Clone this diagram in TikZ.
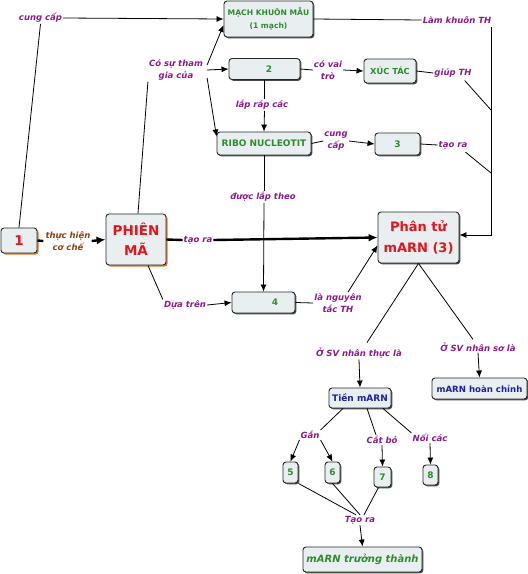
\documentclass[tikz,border=0pt]{standalone}
\usepackage{fontspec}
\setmainfont{DejaVu Sans}
\usetikzlibrary{arrows.meta,shadows,calc}
\definecolor{boxfill}{HTML}{E9EFF1}
\definecolor{lblpurple}{HTML}{8B1A8B}
\definecolor{lblbrown}{HTML}{8B4513}
\definecolor{txtgreen}{HTML}{2E8B2E}
\definecolor{txtred}{HTML}{E3141C}
\definecolor{txtblue}{HTML}{1F1F9F}
\definecolor{shadowgray}{HTML}{4A4A4A}
\definecolor{shadoworange}{HTML}{E8762A}
\begin{document}
\begin{tikzpicture}[x=1pt,y=-1pt,
  basebox/.style={draw=black!85, line width=0.9pt, rounded corners=3pt, fill=boxfill,
    inner sep=0pt, align=center, font=\bfseries\fontsize{9}{10.5}\selectfont},
  gbox/.style={basebox, drop shadow={shadow xshift=1.3pt, shadow yshift=-1.3pt, fill=shadowgray, opacity=1}},
  obox/.style={basebox, drop shadow={shadow xshift=1.6pt, shadow yshift=-1.6pt, fill=shadoworange, opacity=1}},
  lbl/.style={font=\bfseries\itshape\fontsize{8.5}{12.5}\selectfont, text=lblpurple, align=center, inner sep=1pt},
  conn/.style={line width=0.8pt, draw=black},
  arr/.style={conn, -{Latex[length=7pt,width=6pt]}},
  tk/.style={line width=2.4pt, draw=black},
  tkarr/.style={tk, -{Latex[length=9pt,width=8pt]}}]
\useasboundingbox (0,0) rectangle (528,574);
\fill[white] (0,0) rectangle (528,574);
% boxes
\node[gbox, minimum width=89, minimum height=36, text=txtgreen, font=\bfseries\fontsize{7.6}{13}\selectfont] (mk) at (268.5,19) {MẠCH KHUÔN MẪU\\(1 mạch)};
\node[gbox, minimum width=71, minimum height=21, text=txtgreen] (n2) at (264.5,69) {\hspace*{9pt}2};
\node[gbox, minimum width=52, minimum height=24, text=txtgreen, font=\bfseries\fontsize{8.3}{10}\selectfont] (xt) at (390,71) {XÚC TÁC};
\node[gbox, minimum width=94, minimum height=23, text=txtgreen] (ribo) at (264,143.5) {RIBO NUCLEOTIT};
\node[gbox, minimum width=45, minimum height=22, text=txtgreen] (n3) at (397.5,144) {3};
\node[obox, minimum width=36, minimum height=25, text=txtred, font=\bfseries\fontsize{13.5}{15}\selectfont] (n1) at (19,240.5) {1};
\node[obox, minimum width=60, minimum height=51, text=txtred, font=\bfseries\fontsize{13.5}{20}\selectfont] (ph) at (136,239.5) {PHIÊN\\MÃ};
\node[gbox, minimum width=81, minimum height=51, text=txtred, font=\bfseries\fontsize{13}{21}\selectfont] (phan) at (418.5,237.5) {Phân tử\\mARN (3)};
\node[gbox, minimum width=63, minimum height=21, text=txtgreen] (n4) at (263.5,302.5) {\hspace*{23pt}4};
\node[gbox, minimum width=95, minimum height=21, text=txtblue, font=\bfseries\fontsize{8.6}{10}\selectfont] (hc) at (479.5,388.5) {mARN hoàn chỉnh};
\node[gbox, minimum width=62, minimum height=20, text=txtblue] (tien) at (360,398) {Tiền mARN};
\node[gbox, minimum width=15, minimum height=21, text=txtgreen] (n5) at (290.5,472.5) {5};
\node[gbox, minimum width=15, minimum height=21, text=txtgreen] (n6) at (332.5,472.5) {6};
\node[gbox, minimum width=17, minimum height=20, text=txtgreen] (n7) at (382.5,477) {7};
\node[gbox, minimum width=15, minimum height=20, text=txtgreen] (n8) at (430.5,475) {8};
\node[gbox, minimum width=119, minimum height=25, text=txtgreen, font=\bfseries\itshape\fontsize{10}{12}\selectfont] (tt) at (362.5,559.5) {mARN trưởng thành};
% labels
\node[lbl] (cc1) at (40.5,18) {cung cấp};
\node[lbl] (cs) at (176,70) {Có sự tham\\gia của};
\node[lbl] (lk) at (457,20) {Làm khuôn TH};
\node[lbl] (cv) at (328,70) {có vai\\trò};
\node[lbl] (gt) at (453,73) {giúp TH};
\node[lbl] (lr) at (262,105) {lắp ráp các};
\node[lbl] (cc2) at (336,141) {cung\\cấp};
\node[lbl] (tr3) at (453,145) {tạo ra};
\node[lbl] (dl) at (263,197) {được lắp theo};
\node[lbl, text=lblbrown] (th) at (68,241) {thực hiện\\cơ chế};
\node[lbl] (tr) at (198,240) {tạo ra};
\node[lbl] (dt) at (185,305) {Dựa trên};
\node[lbl] (lnt) at (338,303) {là nguyên\\tắc TH};
\node[lbl] (nt) at (359,353) {Ở SV nhân thực là};
\node[lbl] (ns) at (478,347) {Ở SV nhân sơ là};
\node[lbl] (gan) at (310,435) {Gắn};
\node[lbl] (cb) at (382,440) {Cắt bỏ};
\node[lbl] (noi) at (430,438) {Nối các};
\node[lbl] (tao) at (360,520) {Tạo ra};
% helper coordinates on the right trunk
\coordinate (vt) at (491,27);
\coordinate (vb) at (491,235);
\coordinate (j1) at (491,110);
\coordinate (j2) at (491,173);
% connectors
\draw[conn] (n1.north) -- (cc1.south);
\draw[arr] (cc1.east) -- (mk.west);
\draw[tk] (n1.east) -- ([xshift=-1pt]th.west);
\draw[tkarr] (th.east) -- (ph.west);
\draw[conn] ([xshift=2pt]ph.north) -- (cs.south west);
\draw[arr] ([xshift=3pt,yshift=5pt]cs.east) -- ([yshift=-6pt]mk.west);
\draw[arr] ([xshift=3pt]cs.east) -- (n2.west);
\draw[arr] ([xshift=3pt,yshift=-8pt]cs.east) -- ([yshift=-5pt]ribo.north west);
\draw[conn] (mk.east) -- (lk.west);
\draw[arr] (vt) -- (vb) -- (vb -| phan.east);
\draw[conn] (xt.east) -- (gt.west);
\draw[conn] ([xshift=-8pt,yshift=-2pt]gt.south east) -- (j1);
\draw[conn] (n3.east) -- (tr3.west);
\draw[conn] ([xshift=-3pt,yshift=-2pt]tr3.south east) -- (j2);
\draw[conn] (n2.east) -- (cv.west);
\draw[arr] (cv.east) -- (xt.west);
\draw[conn] (n2.south) -- (n2.south |- lr.north);
\draw[arr] (n2.south |- lr.south) -- (ribo.north);
\draw[conn] (ribo.east) -- (cc2.west);
\draw[arr] (cc2.east) -- (n3.west);
\draw[conn] (ribo.south) -- (ribo.south |- dl.north);
\draw[arr] (ribo.south |- dl.south) -- (n4.north);
\draw[tk] (ph.east) -- (tr.west);
\draw[tkarr] (tr.east) -- (phan.west);
\draw[conn] ([xshift=12pt]ph.south) -- (dt.north west);
\draw[arr] (dt.east) -- (n4.west);
\draw[conn] (n4.east) -- (lnt.west);
\draw[arr] ([xshift=10pt]lnt.north) -- ([yshift=18pt]phan.south west);
\draw[conn] (phan.south) -- ([xshift=8pt,yshift=4pt]nt.north);
\draw[conn] (phan.south) -- ([xshift=-5pt,yshift=2pt]ns.north);
\draw[arr] (nt.south) -- (tien.north);
\draw[arr] (ns.south) -- (hc.north);
\draw[conn] ([xshift=-17pt]tien.south) -- (gan.north east);
\draw[conn] ([xshift=7pt]tien.south) -- ([xshift=-6pt]cb.north);
\draw[conn] ([xshift=23pt]tien.south) -- (noi.north west);
\draw[arr] (gan.south west) -- (n5.north);
\draw[arr] (gan.south east) -- (n6.north);
\draw[arr] (cb.south) -- (n7.north);
\draw[arr] (noi.south) -- (n8.north);
\draw[conn] (n5.south east) -- ([xshift=-4pt]tao.north);
\draw[conn] (n6.south) -- (tao.north);
\draw[conn] ([xshift=-4pt]n7.south) -- ([xshift=4pt]tao.north);
\draw[arr] (tao.south) -- (tt.north);
\end{tikzpicture}
\end{document}
